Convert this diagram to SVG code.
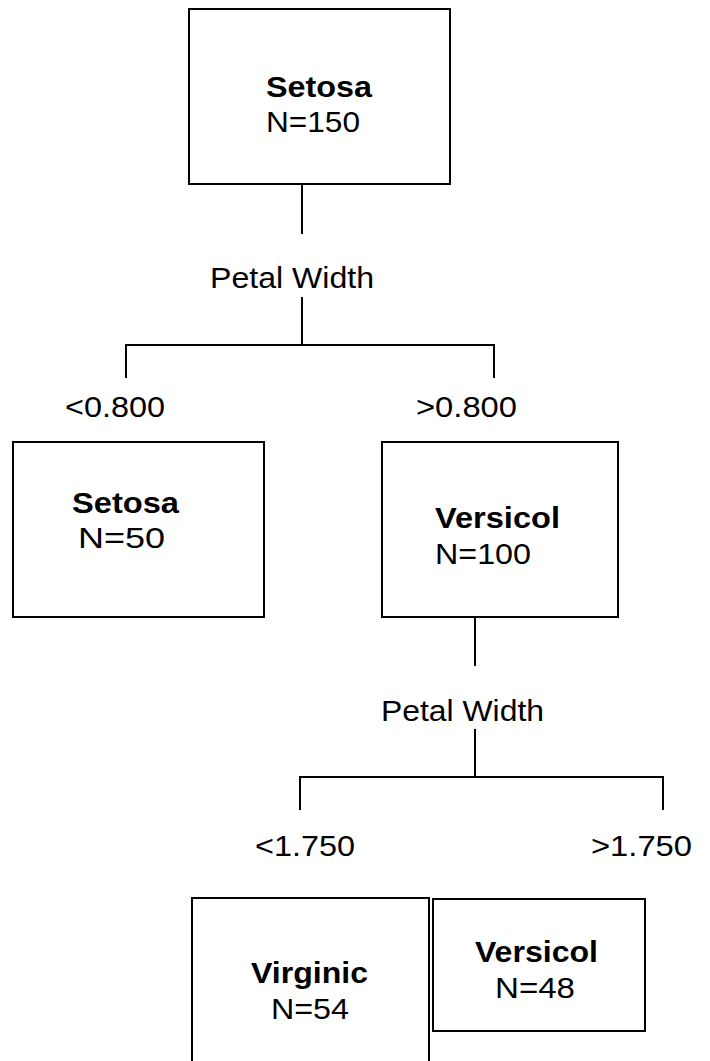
<svg xmlns="http://www.w3.org/2000/svg" width="710" height="1061" viewBox="0 0 710 1061">
<style>
.box{fill:#fff;stroke:#000;stroke-width:2}
.ln{fill:none;stroke:#000;stroke-width:2}
text{font-family:"Liberation Sans",Arial,sans-serif;font-size:30px;fill:#000}
.b{font-weight:bold}
</style>
<rect width="710" height="1061" fill="#fff"/>
<g id="connectors">
<path class="ln" d="M302 184V234M302 297V345M126 378V345H494V378"/>
<path class="ln" d="M475 617V666M475 729V777M300 810V777H663V810"/>
</g>
<g id="labels">
<text x="210" y="288" textLength="164" lengthAdjust="spacingAndGlyphs">Petal Width</text>
<text x="65" y="417" textLength="100" lengthAdjust="spacingAndGlyphs">&lt;0.800</text>
<text x="416" y="417" textLength="101" lengthAdjust="spacingAndGlyphs">&gt;0.800</text>
<text x="381" y="721" textLength="163" lengthAdjust="spacingAndGlyphs">Petal Width</text>
<text x="255" y="856" textLength="100" lengthAdjust="spacingAndGlyphs">&lt;1.750</text>
<text x="591" y="856" textLength="101" lengthAdjust="spacingAndGlyphs">&gt;1.750</text>
</g>
<g id="n0">
<rect class="box" x="189" y="9" width="261" height="175"/>
<text class="b" x="266" y="97" textLength="106" lengthAdjust="spacingAndGlyphs">Setosa</text>
<text x="266" y="132" textLength="94" lengthAdjust="spacingAndGlyphs">N=150</text>
</g>
<g id="n1">
<rect class="box" x="13" y="442" width="251" height="175"/>
<text class="b" x="72" y="513" textLength="107" lengthAdjust="spacingAndGlyphs">Setosa</text>
<text x="78" y="548" textLength="87" lengthAdjust="spacingAndGlyphs">N=50</text>
</g>
<g id="n2">
<rect class="box" x="382" y="442" width="236" height="175"/>
<text class="b" x="435" y="528" textLength="125" lengthAdjust="spacingAndGlyphs">Versicol</text>
<text x="435" y="564" textLength="96" lengthAdjust="spacingAndGlyphs">N=100</text>
</g>
<g id="n3">
<rect class="box" x="192" y="898" width="237" height="180"/>
<text class="b" x="251" y="983" textLength="117" lengthAdjust="spacingAndGlyphs">Virginic</text>
<text x="271" y="1019" textLength="78" lengthAdjust="spacingAndGlyphs">N=54</text>
</g>
<g id="n4">
<rect class="box" x="433" y="899" width="212" height="132"/>
<text class="b" x="475" y="962" textLength="123" lengthAdjust="spacingAndGlyphs">Versicol</text>
<text x="495" y="998" textLength="80" lengthAdjust="spacingAndGlyphs">N=48</text>
</g>
</svg>
